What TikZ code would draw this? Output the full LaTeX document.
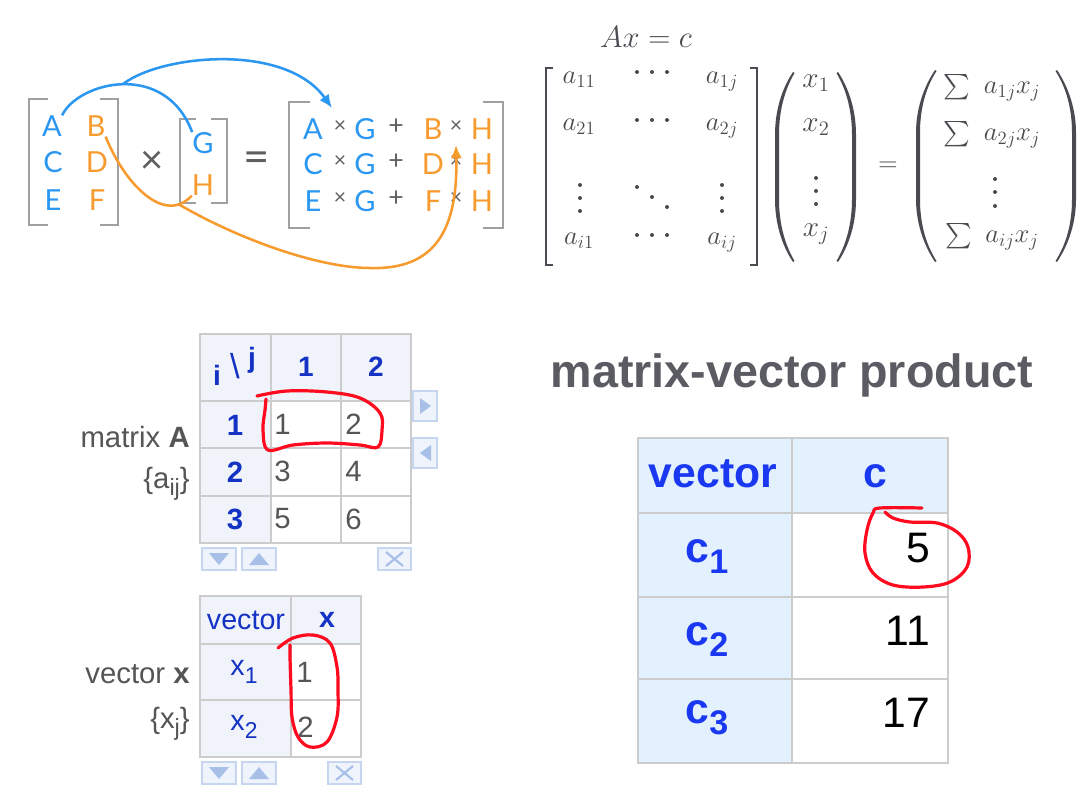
\RequirePackage{fix-cm}
\documentclass[tikz,border=0pt]{standalone}
\usepackage{amsmath}
\usepackage{fontspec}
\setmainfont{Liberation Sans}
\newfontfamily\latofont{Lato}
\usepackage{graphicx}
\usetikzlibrary{arrows.meta}

\definecolor{myblue}{HTML}{2B97F0}
\definecolor{myorange}{HTML}{F79B2E}
\definecolor{brgray}{HTML}{A0A0A0}
\definecolor{opgray}{HTML}{5F5F5F}
\definecolor{mathgray}{HTML}{4A4A50}
\definecolor{tgray}{HTML}{555555}
\definecolor{tblue}{HTML}{1432C4}
\definecolor{cblue}{HTML}{1A38F2}
\definecolor{hdrbg}{HTML}{F0F4FA}
\definecolor{cbg}{HTML}{E3F0FD}
\definecolor{gridgray}{HTML}{CCCCCC}
\definecolor{btnbg}{HTML}{EEF3FC}
\definecolor{btnline}{HTML}{C6D6F0}
\definecolor{btnmark}{HTML}{A8C0E8}
\definecolor{penred}{HTML}{FF0A1E}
\definecolor{titlegray}{HTML}{5B5B63}

\newcommand\fsz[1]{\fontsize{#1}{#1}\selectfont}
\newcommand\lowsub[1]{\raisebox{-0.27em}{\scalebox{0.8}{#1}}}
\newcommand\bigsum{\resizebox*{!}{19pt}{$\sum$}\hspace{10pt}}

\begin{document}
\begin{tikzpicture}[x=0.75pt,y=-0.75pt,
  lett/.style={inner sep=0pt, font=\latofont\fsz{21.75}},
  bl/.style={lett, text=myblue},
  ol/.style={lett, text=myorange},
  opsym/.style={inner sep=0pt, text=opgray, font=\latofont\fsz{16}},
  brk/.style={draw=brgray, line width=2pt},
  mbrk/.style={draw=mathgray, line width=1.8pt},
  mth/.style={inner sep=0pt, anchor=base, text=mathgray, font=\fsz{20}},
  bluec/.style={draw=myblue, line width=1.9pt},
  orangec/.style={draw=myorange, line width=1.9pt},
  arrowend/.style={-{Latex[length=10pt,width=8.5pt]}},
  tgrid/.style={draw=gridgray, line width=1.5pt},
  cgrid/.style={draw=gridgray, line width=1.9pt},
  hdr/.style={inner sep=0pt, text=tblue, font=\bfseries\fsz{21}},
  lbl/.style={inner sep=0pt, text=tblue, font=\bfseries\fsz{22}},
  val/.style={inner sep=0pt, anchor=west, text=tgray, font=\fsz{22}},
  side/.style={inner sep=0pt, text=tgray, font=\fsz{22}},
  btn/.style={fill=btnbg, draw=btnline, line width=1.2pt},
  bmark/.style={fill=btnmark},
  xmark/.style={draw=btnmark, line width=1.6pt},
  redpen/.style={draw=penred, line width=2.4pt, line cap=round, line join=round},
  chd/.style={inner sep=0pt, anchor=base, text=cblue, font=\bfseries\fsz{32}},
  cval/.style={inner sep=0pt, anchor=base east, text=black, font=\fsz{32}}
]
\useasboundingbox (0,0) rectangle (1088,804);
\fill[white] (0,0) rectangle (1088,804);

% ---------------- top-left diagram ----------------
\draw[brk] (48,99) -- (29,99) -- (29,225) -- (48,225);
\draw[brk] (100,99) -- (118,99) -- (118,225) -- (100,225);
\draw[brk] (196,119) -- (180,119) -- (180,203) -- (196,203);
\draw[brk] (211,119) -- (227,119) -- (227,203) -- (211,203);
\draw[brk] (310,102) -- (289,102) -- (289,228) -- (310,228);
\draw[brk] (483,102) -- (503,102) -- (503,228) -- (483,228);

\node[bl] (la) at (52,126) {A};
\node[ol] (lb) at (96,126) {B};
\node[bl] (lc) at (53,162) {C};
\node[ol] (ld) at (97,162) {D};
\node[bl] (le) at (53,200) {E};
\node[ol] (lf) at (97,200) {F};

\node[inner sep=0pt, text=opgray, font=\latofont\fsz{30}] (tm) at (152,162) {×};
\node[bl] (vg) at (203,143) {G};
\node[ol] (vh) at (203,185) {H};
\node[inner sep=0pt, text=opgray, font=\latofont\fsz{34}] (eq) at (257,162) {=};

\foreach \r/\y/\p/\q in {1/129/A/B, 2/164/C/D, 3/201/E/F}{
  \node[bl] (ra\r) at (313,\y) {\p};
  \node[opsym] (rx\r) at (340,\y-2) {×};
  \node[bl] (rg\r) at (365,\y) {G};
  \node[opsym, font=\latofont\fsz{20}] (rp\r) at (396,\y-2) {+};
  \node[ol] (rb\r) at (433,\y) {\q};
  \node[opsym] (ry\r) at (456,\y-2) {×};
  \node[ol] (rh\r) at (482,\y) {H};
}
\coordinate (bt) at (332,108);
\coordinate (ot) at (456,145);

\draw[bluec] (la.north east) .. controls (78,82) and (165,60) .. (vg.north west) coordinate[pos=0.5] (bsplit);
\draw[bluec, arrowend] (bsplit) .. controls (160,55) and (285,42) .. (bt);
\draw[orangec] (lb.south east) .. controls (125,185) and (165,225) .. (vh.south west) coordinate[pos=0.85] (osplit);
\draw[orangec, arrowend] (osplit) .. controls (240,240) and (320,268) .. (370,268) .. controls (435,270) and (458,230) .. (ot);

% ---------------- formula ----------------
\node[mth, font=\fsz{23}] (axc) at (646,47) {$Ax=c$};
\draw[mbrk] (553,68) -- (546,68) -- (546,265) -- (553,265);
\draw[mbrk] (750,68) -- (757,68) -- (757,265) -- (750,265);
\node[mth] (a11) at (579,83) {$a_{11}$};
\node[mth] (a1j) at (722,83) {$a_{1j}$};
\node[mth] (a21) at (579,130) {$a_{21}$};
\node[mth] (a2j) at (722,130) {$a_{2j}$};
\node[mth] (ai1) at (579,244) {$a_{i1}$};
\node[mth] (aij) at (722,244) {$a_{ij}$};
\foreach \y in {72,120,235}{
  \foreach \x in {637,652,667} \fill[mathgray] (\x,\y) circle (2);
}
\foreach \y in {185,198,211}{
  \fill[mathgray] (580,\y) circle (2);
  \fill[mathgray] (722,\y) circle (2);
}
\fill[mathgray] (637,187) circle (2) (652,197) circle (2) (667,207) circle (2);

\fill[mathgray] (793,72) .. controls (781,90) and (775,112) .. (775,135) -- (775,199) .. controls (775,222) and (781,244) .. (793,262) -- (794.5,261) .. controls (784,243) and (779,222) .. (779,199) -- (779,135) .. controls (779,112) and (784,91) .. (794.5,73) -- cycle;
\fill[mathgray] (838,72) .. controls (850,90) and (856,112) .. (856,135) -- (856,199) .. controls (856,222) and (850,244) .. (838,262) -- (836.5,261) .. controls (847,243) and (852,222) .. (852,199) -- (852,135) .. controls (852,112) and (847,91) .. (836.5,73) -- cycle;
\node[mth, font=\fsz{22}] (x1) at (816,87) {$x_1$};
\node[mth, font=\fsz{22}] (x2) at (816,131) {$x_2$};
\node[mth, font=\fsz{22}] (xj) at (816,236) {$x_j$};
\fill[mathgray] (816,178) circle (2) (816,191) circle (2) (816,204) circle (2);

\node[mth, anchor=center] (eq2) at (888,167) {$=$};

\fill[mathgray] (935,70) .. controls (923,88) and (916,110) .. (916,133) -- (916,199) .. controls (916,222) and (923,244) .. (935,262) -- (936.5,261) .. controls (925,243) and (920,222) .. (920,199) -- (920,133) .. controls (920,110) and (925,89) .. (936.5,71) -- cycle;
\fill[mathgray] (1057,70) .. controls (1069,88) and (1076,110) .. (1076,133) -- (1076,199) .. controls (1076,222) and (1069,244) .. (1057,262) -- (1055.5,261) .. controls (1067,243) and (1072,222) .. (1072,199) -- (1072,133) .. controls (1072,110) and (1067,89) .. (1055.5,71) -- cycle;
\node[mth] (s1) at (992,93) {\bigsum$a_{1j}x_j$};
\node[mth] (s2) at (992,140) {\bigsum$a_{2j}x_j$};
\node[mth] (si) at (992,242) {\bigsum$a_{ij}x_j$};
\fill[mathgray] (995,179) circle (2) (995,192) circle (2) (995,206) circle (2);

% ---------------- matrix A table ----------------
\fill[hdrbg] (200,334) rectangle (411,401);
\fill[hdrbg] (200,401) rectangle (271,543);
\draw[tgrid] (200,334) rectangle (411,543);
\draw[tgrid] (271,334) -- (271,543) (341,334) -- (341,543);
\draw[tgrid] (200,401) -- (411,401) (200,448) -- (411,448) (200,496) -- (411,496);

\node[hdr, font=\bfseries\fsz{21}] (hi) at (217,375) {i};
\node[inner sep=0pt, text=tblue, font=\fsz{26}] (hbs) at (235,366) {\textbackslash};
\node[hdr, font=\bfseries\fsz{21}] (hj) at (252,360) {j};
\node[hdr] (hc1) at (306,367) {1};
\node[hdr] (hc2) at (376,367) {2};
\node[lbl] (hr1) at (235,425) {1};
\node[lbl] (hr2) at (235,472) {2};
\node[lbl] (hr3) at (235,519) {3};
\node[val] (v11) at (274,424) {1};
\node[val] (v12) at (345,424) {2};
\node[val] (v21) at (274,471) {3};
\node[val] (v22) at (345,471) {4};
\node[val] (v31) at (274,519) {5};
\node[val] (v32) at (345,519) {6};

\node[side, anchor=east] (lblA) at (190,437) {matrix \textbf{A}};
\node[side, anchor=base east] (lblAij) at (190,488) {\{a\lowsub{ij}\}};

\draw[btn] (413,391) rectangle (437,421);
\fill[bmark] (420,398) -- (420,414) -- (431,406) -- cycle;
\draw[btn] (413,438) rectangle (437,468);
\fill[bmark] (431,445) -- (431,461) -- (420,453) -- cycle;
\draw[btn] (202,548) rectangle (236,570);
\fill[bmark] (209,553) -- (229,553) -- (219,565) -- cycle;
\draw[btn] (242,548) rectangle (276,570);
\fill[bmark] (249,565) -- (269,565) -- (259,553) -- cycle;
\draw[btn] (378,548) rectangle (411,570);
\draw[xmark] (386,552) -- (403,566) (386,566) -- (403,552);

\draw[redpen] plot[smooth, tension=0.6] coordinates {(257,396) (287,391) (327,392) (360,398) (380,413) (382,430) (378,447) (360,445) (327,443) (293,445) (268,450) (263,430) (265,410) (266,399)};

% ---------------- vector x table ----------------
\fill[hdrbg] (200,596) rectangle (361,644);
\fill[hdrbg] (200,644) rectangle (291,757);
\draw[tgrid] (200,596) rectangle (361,757);
\draw[tgrid] (291,596) -- (291,757);
\draw[tgrid] (200,644) -- (361,644) (200,700) -- (361,700);

\node[inner sep=0pt, text=tblue, font=\fsz{21.5}] (xvh) at (246,620) {vector};
\node[hdr, font=\bfseries\fsz{21.5}] (xxh) at (327,620) {x};
\node[inner sep=0pt, text=tblue, font=\fsz{21.5}] (xr1) at (244,672) {x\lowsub{1}};
\node[inner sep=0pt, text=tblue, font=\fsz{21.5}] (xr2) at (244,727) {x\lowsub{2}};
\node[val] (xv1) at (296,672) {1};
\node[val] (xv2) at (297,727) {2};

\node[side, anchor=base east] (lblx) at (190,683) {vector \textbf{x}};
\node[side, anchor=base east] (lblxj) at (190,728) {\{x\lowsub{j}\}};

\draw[btn] (202,762) rectangle (236,784);
\fill[bmark] (209,767) -- (229,767) -- (219,779) -- cycle;
\draw[btn] (242,762) rectangle (276,784);
\fill[bmark] (249,779) -- (269,779) -- (259,767) -- cycle;
\draw[btn] (328,762) rectangle (361,784);
\draw[xmark] (336,766) -- (353,780) (336,780) -- (353,766);

\draw[redpen] plot[smooth, tension=0.6] coordinates {(278,648) (293,638) (313,635) (330,643) (337,667) (338,690) (337,717) (327,742) (310,747) (298,737) (292,717) (291,690) (290,657) (290,645)};

% ---------------- product ----------------
\node[inner sep=0pt, anchor=base, text=titlegray, font=\bfseries\fsz{35}] (title) at (792,387) {matrix-vector product};

\fill[cbg] (638,438) rectangle (948,513);
\fill[cbg] (638,513) rectangle (792,763);
\draw[cgrid] (638,438) rectangle (948,763);
\draw[cgrid] (792,438) -- (792,763);
\draw[cgrid] (638,513) -- (948,513) (638,597) -- (948,597) (638,679) -- (948,679);

\node[chd] (cvh) at (713,487) {vector};
\node[chd] (cch) at (875,487) {c};
\node[chd] (c1) at (707,562) {c\lowsub{1}};
\node[chd] (c2) at (707,645) {c\lowsub{2}};
\node[chd] (c3) at (707,723) {c\lowsub{3}};
\node[cval] (cv1) at (930,562) {5};
\node[cval] (cv2) at (930,645) {11};
\node[cval] (cv3) at (930,727) {17};

\draw[redpen] plot[smooth, tension=0.6] coordinates {(922,508) (880,508) (873,513) (867,530) (865,553) (873,573) (893,585) (923,587) (950,582) (967,567) (968,547) (957,532) (937,523) (910,522) (893,518) (885,512)};
\end{tikzpicture}
\end{document}
